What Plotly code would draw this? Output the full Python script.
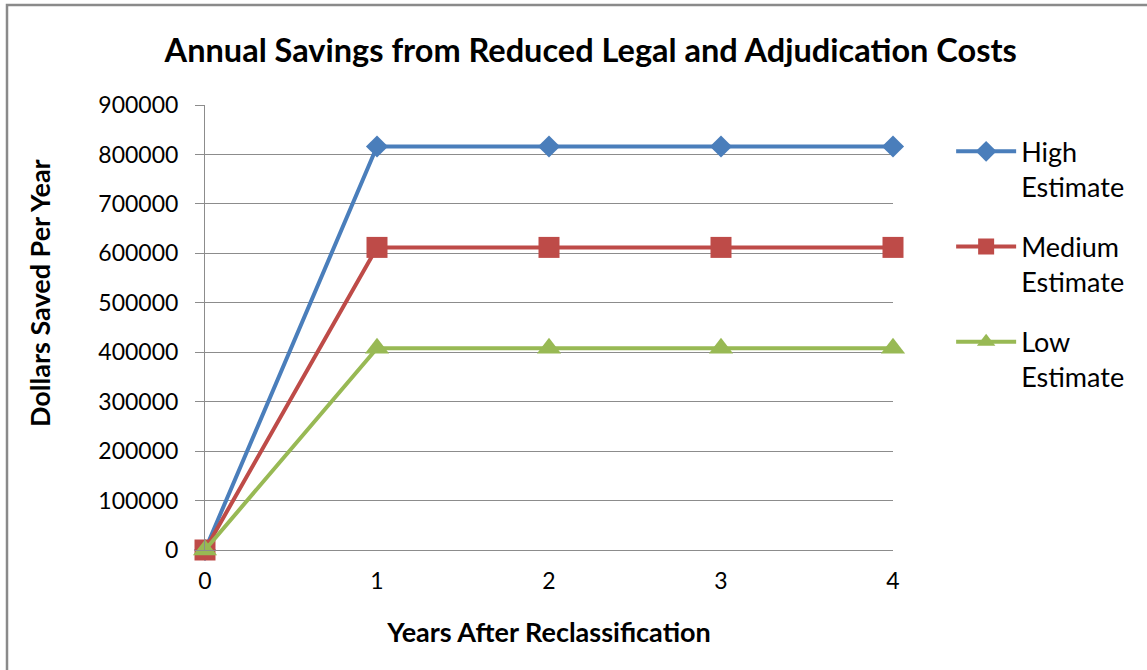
import plotly.graph_objects as go

years = [0, 1, 2, 3, 4]
high_estimate = [0, 816000, 816000, 816000, 816000]
medium_estimate = [0, 612000, 612000, 612000, 612000]
low_estimate = [0, 408000, 408000, 408000, 408000]

series_names = ["High<br>Estimate", "Medium<br>Estimate", "Low<br>Estimate"]
series_values = [high_estimate, medium_estimate, low_estimate]
series_colors = ["#4A7EBB", "#BE4B48", "#98B954"]
series_symbols = ["diamond", "square", "triangle-up"]
series_sizes = [17, 21, 21]

FONT = "Lato"
GRID = "#8C8C8C"

fig = go.Figure()
for i, (name, vals, color, sym, size) in enumerate(zip(series_names, series_values,
                                                       series_colors, series_symbols,
                                                       series_sizes)):
    fig.add_trace(go.Scatter(
        x=years, y=vals, name=name, mode="lines+markers", legendgroup=f"g{i}",
        line=dict(color=color, width=4),
        marker=dict(symbol=sym, size=size, color=color, line=dict(width=0)),
        cliponaxis=False,
    ))

fig.update_layout(
    width=1147, height=670,
    margin=dict(l=205, r=254, t=105, b=120),
    paper_bgcolor="white", plot_bgcolor="white",
    font=dict(family=FONT, size=23, color="#000000"),
    title=dict(
        text="<b>Annual Savings from Reduced Legal and Adjudication Costs</b>",
        x=0.515, xanchor="center", y=0.925, yanchor="middle",
        font=dict(family=FONT, size=32.5, color="#000000"),
    ),
    legend=dict(
        x=1.0845, xanchor="left", y=0.95, yanchor="top",
        valign="top", font=dict(family=FONT, size=27),
        tracegroupgap=22, itemwidth=60, bgcolor="rgba(0,0,0,0)",
    ),
    showlegend=True,
    annotations=[dict(
        text="<b>Dollars Saved Per Year</b>", textangle=-90,
        xref="paper", yref="paper", x=(39 - 205) / 688, y=(550 - 293) / 445,
        xanchor="center", yanchor="middle", showarrow=False,
        font=dict(family=FONT, size=27, color="#000000"),
    )],
)

fig.update_xaxes(
    range=[0, 4], tickvals=years, ticktext=[str(v) for v in years],
    showgrid=False, zeroline=False, showline=True, linecolor=GRID, linewidth=1,
    ticks="", ticklabelstandoff=10, tickfont=dict(family=FONT, size=23),
    title=dict(text="<b>Years After Reclassification</b>",
               font=dict(family=FONT, size=27), standoff=30),
)
fig.update_yaxes(
    range=[0, 900000], tickvals=list(range(0, 900001, 100000)),
    tickformat="d", showgrid=True, gridcolor=GRID, gridwidth=1,
    zeroline=False, showline=True, linecolor=GRID, linewidth=1,
    ticks="outside", ticklen=9, tickcolor=GRID, ticklabelstandoff=12,
    tickfont=dict(family=FONT, size=23),
)

# grey frame around the chart area
fig.add_shape(
    type="rect", xref="paper", yref="paper",
    x0=(7 - 205) / 688, x1=(1160 - 205) / 688,
    y0=(550 - 690) / 445, y1=(550 - 5) / 445,
    line=dict(color="#8A8A8A", width=2.5), fillcolor="rgba(0,0,0,0)",
    layer="below",
)

fig.write_html("out.html")
